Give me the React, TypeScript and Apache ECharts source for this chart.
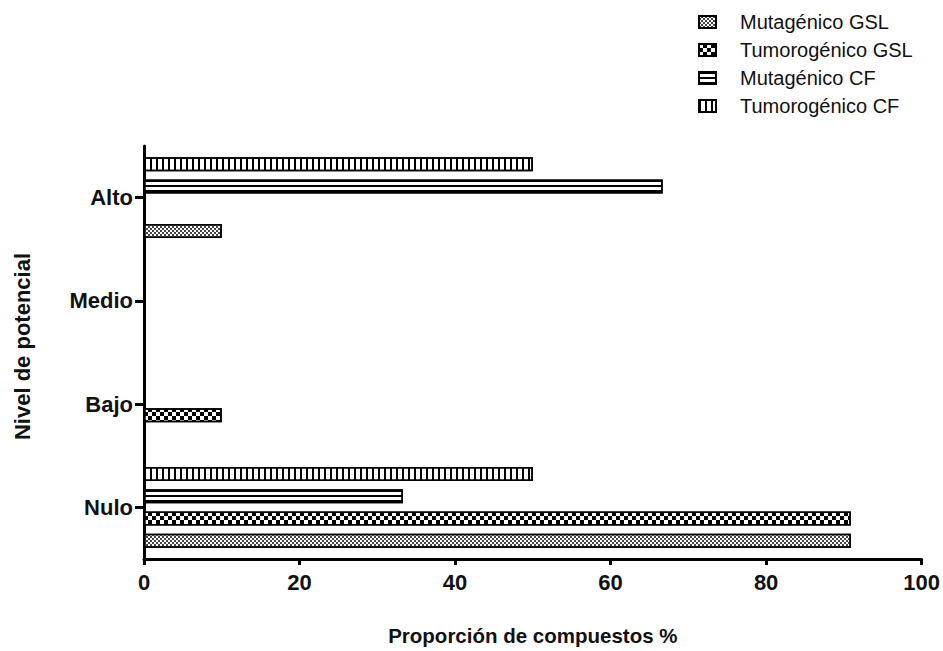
import React, { useEffect, useRef } from "react";
import * as echarts from "echarts";

const categories = ["Nulo", "Bajo", "Medio", "Alto"];
const seriesNames = ["Mutagénico GSL", "Tumorogénico GSL", "Mutagénico CF", "Tumorogénico CF"];
const mutagenicoGSL = [90.9, 0, 0, 10];
const tumorogenicoGSL = [90.9, 10, 0, 0];
const mutagenicoCF = [33.3, 0, 0, 66.7];
const tumorogenicoCF = [50, 0, 0, 50];
const xTicks = { min: 0, max: 100, interval: 20 };

const FONT = "'Liberation Sans', Arial, Helvetica, sans-serif";

const decals: Record<string, any> = {
  "Mutagénico GSL": {
    symbol: "rect",
    symbolSize: 1,
    dashArrayX: [[2, 2], [0, 2, 2, 0]],
    dashArrayY: [2, 0],
    color: "#444",
  },
  "Tumorogénico GSL": {
    symbol: "rect",
    symbolSize: 1,
    dashArrayX: [[4, 4], [0, 4, 4, 0]],
    dashArrayY: [4, 0],
    color: "#000",
  },
  "Mutagénico CF": {
    symbol: "rect",
    symbolSize: 1,
    dashArrayX: [[1, 0]],
    dashArrayY: [1.5, 3],
    color: "#000",
  },
  "Tumorogénico CF": {
    symbol: "rect",
    symbolSize: 1,
    dashArrayX: [1.5, 4],
    dashArrayY: [1, 0],
    color: "#000",
  },
};

export default function App() {
  const ref = useRef<HTMLDivElement>(null);
  useEffect(() => {
    if (!ref.current) return;
    const chart = echarts.init(ref.current, null, { renderer: "svg" });
    const dataByName: Record<string, number[]> = {
      "Mutagénico GSL": mutagenicoGSL,
      "Tumorogénico GSL": tumorogenicoGSL,
      "Mutagénico CF": mutagenicoCF,
      "Tumorogénico CF": tumorogenicoCF,
    };
    // drawing order: top bar first
    const order = ["Tumorogénico CF", "Mutagénico CF", "Tumorogénico GSL", "Mutagénico GSL"];
    const series = order.map((name) => ({
      name,
      type: "bar",
      data: dataByName[name],
      barWidth: 14,
      barGap: "59%",
      itemStyle: {
        color: "#ffffff",
        borderColor: "#000",
        borderWidth: 1.5,
        decal: decals[name],
      },
      emphasis: { disabled: true },
    }));
    chart.setOption({
      animation: false,
      backgroundColor: "#fff",
      textStyle: { fontFamily: FONT },
      legend: {
        data: seriesNames,
        orient: "vertical",
        left: 698,
        top: 12,
        icon: "rect",
        itemWidth: 17,
        itemHeight: 12,
        itemGap: 8,
        padding: 0,
        selectedMode: false,
        textStyle: {
          fontFamily: FONT,
          fontSize: 20,
          lineHeight: 20,
          color: "#111",
          padding: [0, 0, 0, 19],
        },
      },
      grid: { left: 144, right: 21, top: 146, bottom: 90, containLabel: false },
      xAxis: {
        type: "value",
        min: xTicks.min,
        max: xTicks.max,
        interval: xTicks.interval,
        name: "Proporción de compuestos %",
        nameLocation: "middle",
        nameGap: 66,
        nameTextStyle: { fontFamily: FONT, fontSize: 20.5, fontWeight: "bold", color: "#111" },
        axisLine: { show: true, lineStyle: { color: "#000", width: 3 } },
        axisTick: { show: true, length: 6, lineStyle: { color: "#000", width: 3 } },
        axisLabel: { fontFamily: FONT, fontSize: 22, fontWeight: "bold", color: "#111", margin: 12 },
        splitLine: { show: false },
      },
      yAxis: {
        type: "category",
        data: categories,
        name: "Nivel de potencial",
        nameLocation: "middle",
        nameGap: 111,
        nameTextStyle: {
          fontFamily: FONT,
          fontSize: 22,
          fontWeight: "bold",
          color: "#111",
          padding: [0, 0, 0, 12],
        },
        axisLine: { show: true, lineStyle: { color: "#000", width: 3 } },
        axisTick: { show: true, alignWithLabel: true, length: 9, lineStyle: { color: "#000", width: 3 } },
        axisLabel: { fontFamily: FONT, fontSize: 22, fontWeight: "bold", color: "#111", margin: 11 },
        splitLine: { show: false },
      },
      series,
    });
    return () => chart.dispose();
  }, []);
  return (
    <div
      ref={ref}
      style={{ position: "fixed", left: 0, top: 0, width: 943, height: 651, background: "#fff" }}
    />
  );
}
